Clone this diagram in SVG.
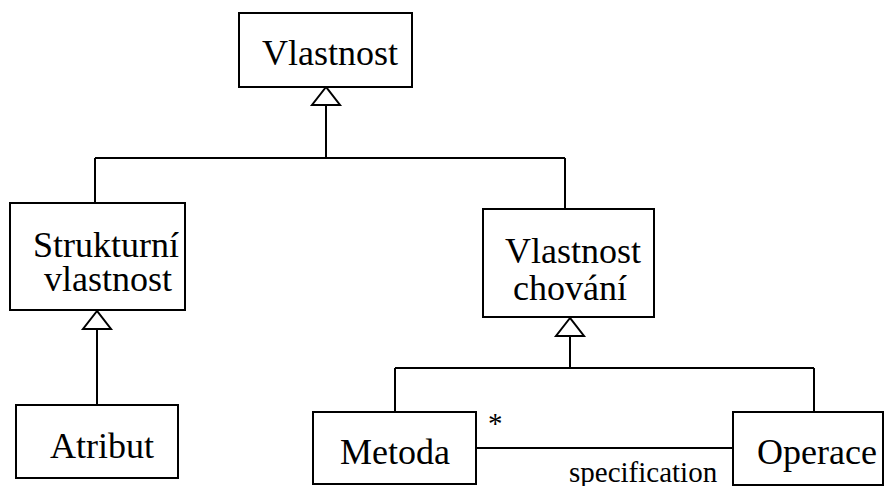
<svg xmlns="http://www.w3.org/2000/svg" width="884" height="486" viewBox="0 0 884 486">
  <style>
    .box { fill: #ffffff; stroke: #000000; stroke-width: 2; }
    .edge { fill: none; stroke: #000000; stroke-width: 2; }
    .head { fill: #ffffff; stroke: #000000; stroke-width: 2; stroke-linejoin: miter; }
    .lbl { font-family: "Liberation Serif", "Times New Roman", serif; font-size: 36px; fill: #000000; }
    .small { font-family: "Liberation Serif", "Times New Roman", serif; font-size: 29px; fill: #000000; }
  </style>
  <rect width="884" height="486" fill="#ffffff"/>

  <g id="connectors">
    <!-- generalization to Vlastnost -->
    <path class="edge" d="M326 105 V158 M95 158 H565 M95 158 V203 M565 158 V209"/>
    <polygon class="head" points="326,87 312,105 340,105"/>
    <!-- Atribut to Strukturní vlastnost -->
    <path class="edge" d="M97 329 V405"/>
    <polygon class="head" points="97,311 83,329 111,329"/>
    <!-- generalization to Vlastnost chování -->
    <path class="edge" d="M570 336 V368 M395 368 H814 M395 368 V412 M814 368 V412"/>
    <polygon class="head" points="570,318 556,336 584,336"/>
    <!-- association Metoda - Operace -->
    <path class="edge" d="M476 448 H733"/>
    <text class="small" x="488" y="433">*</text>
    <text class="small" x="569" y="482">specification</text>
  </g>

  <g id="vlastnost">
    <rect class="box" x="239" y="13" width="173" height="74"/>
    <text class="lbl" x="262" y="65">Vlastnost</text>
  </g>

  <g id="strukturni-vlastnost">
    <rect class="box" x="10" y="203" width="175" height="107"/>
    <text class="lbl" x="33" y="257">Strukturní</text>
    <text class="lbl" x="44" y="291">vlastnost</text>
  </g>

  <g id="vlastnost-chovani">
    <rect class="box" x="483" y="209" width="171" height="108"/>
    <text class="lbl" x="505" y="263">Vlastnost</text>
    <text class="lbl" x="513" y="300">chování</text>
  </g>

  <g id="atribut">
    <rect class="box" x="16" y="405" width="162" height="73"/>
    <text class="lbl" x="50" y="458">Atribut</text>
  </g>

  <g id="metoda">
    <rect class="box" x="313" y="412" width="163" height="72"/>
    <text class="lbl" x="340" y="464">Metoda</text>
  </g>

  <g id="operace">
    <rect class="box" x="733" y="412" width="150" height="73"/>
    <text class="lbl" x="757" y="464">Operace</text>
  </g>
</svg>
